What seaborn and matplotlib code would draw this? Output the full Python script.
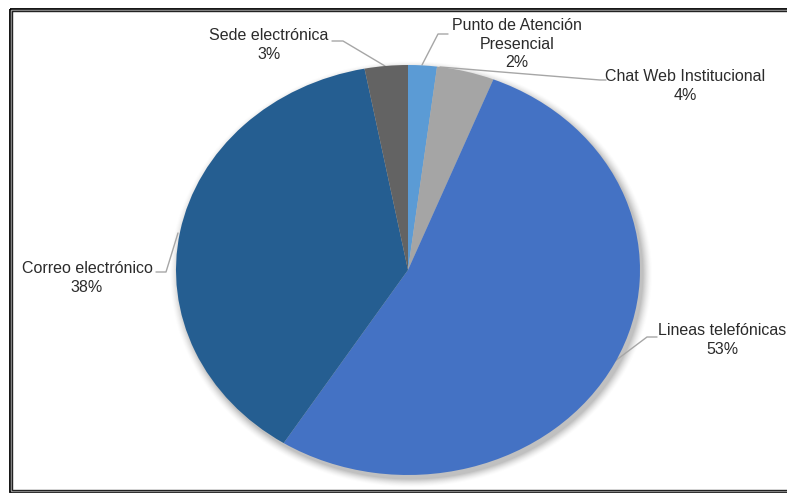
import numpy as np
import matplotlib
matplotlib.use("Agg")
import matplotlib.pyplot as plt
from matplotlib.patches import Rectangle
import seaborn as sns

# ---- data ----
categories = ["Punto de Atención\nPresencial", "Chat Web Institucional",
              "Lineas telefónicas", "Correo electrónico", "Sede electrónica"]
values = [2, 4, 53, 38, 3]
pct_labels = ["2%", "4%", "53%", "38%", "3%"]
colors = ["#5B9BD5", "#A5A5A5", "#4472C4", "#255E91", "#636363"]

sns.set_theme(style="white")
plt.rcParams['font.family'] = ['Liberation Sans', 'DejaVu Sans']

W, H = 787, 494
fig = plt.figure(figsize=(W / 100, H / 100), dpi=100)
fig.patch.set_facecolor("white")

# background axes in pixel coordinates (top-left origin)
bg = fig.add_axes([0, 0, 1, 1], zorder=0)
bg.set_xlim(0, W)
bg.set_ylim(H, 0)
bg.axis("off")

# pie geometry (layout)
cx, cy, rx, ry = 408, 270, 232, 205

# soft shadow
yy, xx = np.mgrid[0:H, 0:W] + 0.5
r = np.sqrt(((xx - cx - 3) / rx) ** 2 + ((yy - cy - 4) / ry) ** 2)
dist = (r - 1) * 215
alpha = np.where(dist > 0, 0.38 * np.clip(1 - dist / 9, 0, 1) ** 1.6, 0.38)
img = np.zeros((H, W, 4))
img[..., :3] = 0.35
img[..., 3] = alpha
bg.imshow(img, extent=(0, W, H, 0), interpolation="bilinear", zorder=0)

# frame (double border)
bg.add_patch(Rectangle((9.5, 8.5), 820, 484, fill=False, ec="black", lw=1.3, zorder=5))
bg.add_patch(Rectangle((10.9, 9.9), 820, 481.2, fill=False, ec="#9a9a9a", lw=1.0, zorder=5))
bg.add_patch(Rectangle((12.2, 11.2), 820, 478.8, fill=False, ec="#222222", lw=1.0, zorder=5))

# pie axes
ax = fig.add_axes([(cx - rx) / W, (H - cy - ry) / H, 2 * rx / W, 2 * ry / H], zorder=1)
ax.patch.set_alpha(0)
wedges, _ = ax.pie(values, colors=colors, startangle=90, counterclock=False,
                   radius=1, wedgeprops=dict(linewidth=0))
ax.set_aspect("auto")
ax.set_xlim(-1, 1)
ax.set_ylim(-1, 1)
ax.axis("off")

# labels + leader lines (pixel layout in bg axes)
label_pos = [(517, 44), (685, 86), (722, 340), (87, 278), (269, 45)]
leaders = [
    [(422, 65), (438, 34), (448, 34)],
    [(440, 67), (600, 80), (606, 80)],
    [(615, 361), (647, 337), (657, 337)],
    [(178, 233), (166, 272), (156, 272)],
    [(385, 66), (343, 41), (332, 41)],
]
for cat, pct, (lx, ly), pts in zip(categories, pct_labels, label_pos, leaders):
    bg.text(lx, ly, f"{cat}\n{pct}", ha="center", va="center", fontsize=11.5,
            color="#2b2b2b", linespacing=1.33, zorder=6)
    xs, ys = zip(*pts)
    bg.plot(xs, ys, color="#A6A6A6", lw=1.0, zorder=4)

fig.savefig("out.png", dpi=100)
